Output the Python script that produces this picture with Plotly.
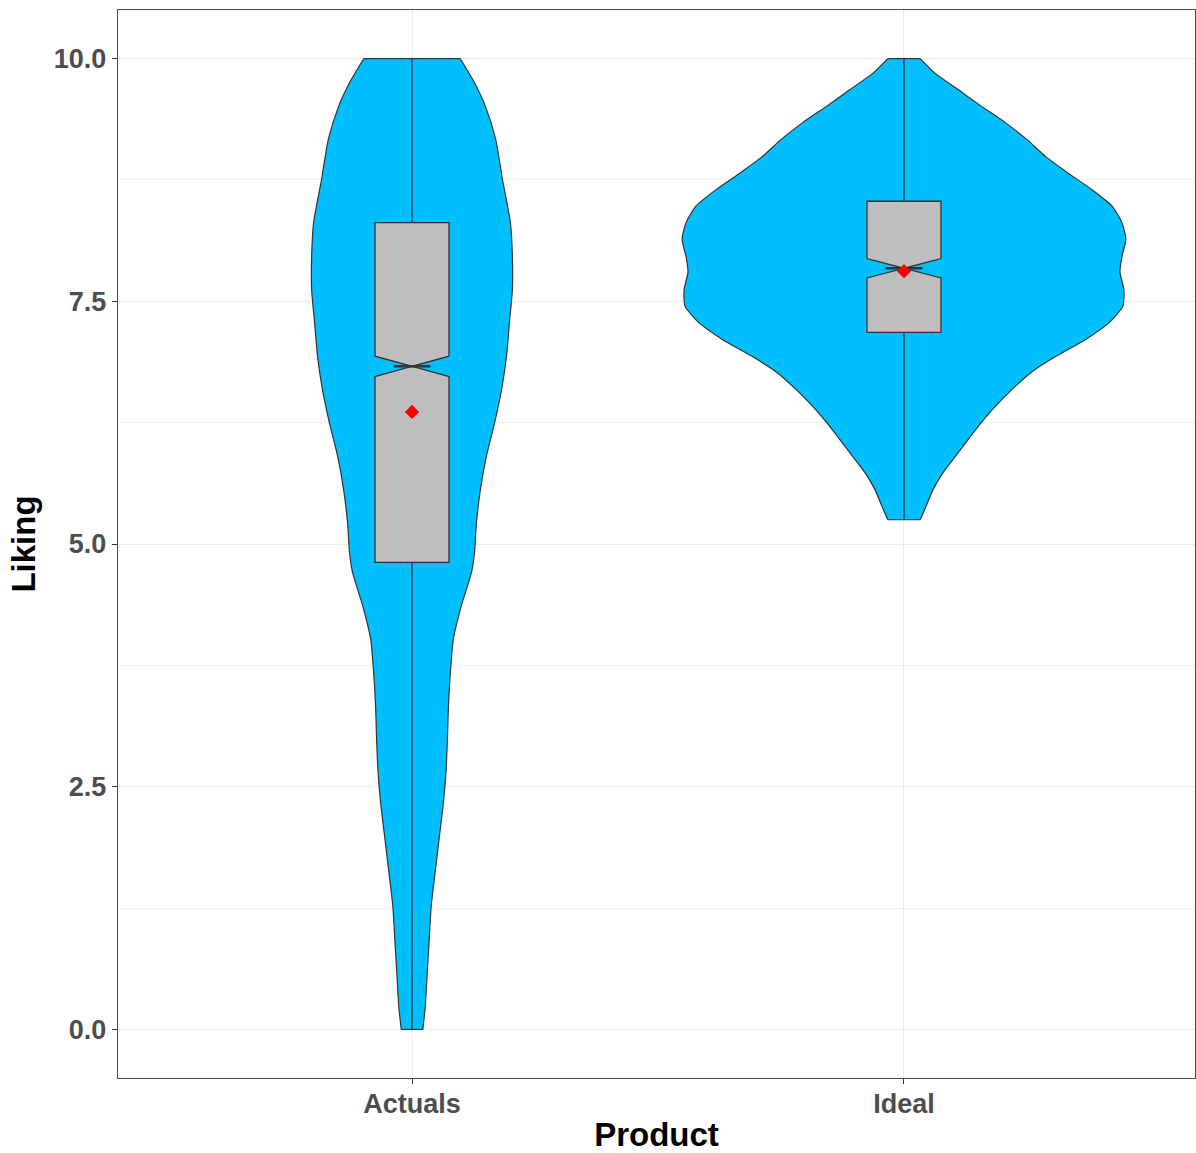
import plotly.graph_objects as go

# Products on the x axis (numeric positions 1, 2 with category labels)
products = ["Actuals", "Ideal"]
positions = [1, 2]

# Violin outlines: liking level and half-width of the density shape
actuals_levels = [0.0, 0.24, 0.59, 0.93, 1.27, 1.62, 1.96, 2.30, 2.65, 2.99, 3.33,
                  3.68, 4.02, 4.36, 4.71, 4.91, 5.22, 5.56, 5.90, 6.25, 6.59, 6.93,
                  7.28, 7.62, 7.96, 8.31, 8.75, 9.17, 9.51, 9.75, 10.0]
actuals_halfwidth = [0.022, 0.027, 0.031, 0.035, 0.039, 0.047, 0.055, 0.063, 0.069,
                     0.072, 0.074, 0.078, 0.084, 0.100, 0.121, 0.127, 0.131, 0.139,
                     0.151, 0.168, 0.182, 0.192, 0.198, 0.204, 0.204, 0.200, 0.184,
                     0.170, 0.149, 0.127, 0.098]

ideal_levels = [5.25, 5.39, 5.56, 5.74, 5.90, 6.08, 6.25, 6.42, 6.59, 6.77, 6.93,
                7.11, 7.28, 7.45, 7.62, 7.80, 7.96, 8.14, 8.31, 8.48, 8.65, 8.83,
                8.99, 9.17, 9.34, 9.51, 9.68, 9.85, 10.0]
ideal_halfwidth = [0.033, 0.045, 0.059, 0.080, 0.104, 0.131, 0.157, 0.186, 0.219,
                   0.259, 0.308, 0.370, 0.417, 0.445, 0.447, 0.439, 0.443, 0.451,
                   0.443, 0.423, 0.382, 0.331, 0.288, 0.249, 0.206, 0.157, 0.110,
                   0.063, 0.033]

# Box-plot summary statistics per product
q1 = [4.81, 7.18]
median = [6.83, 7.84]
q3 = [8.31, 8.53]
lower_fence = [0.0, 5.25]
upper_fence = [10.0, 10.0]
notch_span = [0.105, 0.10]
means = [6.36, 7.81]

# Axis ticks
y_ticks = [0.0, 2.5, 5.0, 7.5, 10.0]
y_ticklabels = ["0.0", "2.5", "5.0", "7.5", "10.0"]

VIOLIN_FILL = "#00BFFF"
OUTLINE = "#333333"
BOX_WIDTH = 0.1504
NOTCH_WIDTH = 0.5
X_RANGE = [0.4024, 2.5915]

fig = go.Figure()

# Violins: smooth left and right edges, filled between them, flat ends
violins = [(actuals_levels, actuals_halfwidth), (ideal_levels, ideal_halfwidth)]
edge = dict(color=OUTLINE, width=1.2, shape="spline", smoothing=0.6)
for pos, (levels, half) in zip(positions, violins):
    fig.add_trace(go.Scatter(
        x=[pos - w for w in half], y=levels, mode="lines", line=edge,
        hoverinfo="skip", showlegend=False,
    ))
    fig.add_trace(go.Scatter(
        x=[pos + w for w in half], y=levels, mode="lines", line=edge,
        fill="tonextx", fillcolor=VIOLIN_FILL,
        hoverinfo="skip", showlegend=False,
    ))
    for i in (0, -1):
        fig.add_trace(go.Scatter(
            x=[pos - half[i], pos + half[i]], y=[levels[i], levels[i]],
            mode="lines", line=dict(color=OUTLINE, width=1.2),
            hoverinfo="skip", showlegend=False,
        ))

# Boxes, medians and means on an overlaying x axis so they sit above the violins
fig.add_trace(go.Box(
    x=positions, q1=q1, median=median, q3=q3,
    lowerfence=lower_fence, upperfence=upper_fence, notchspan=notch_span,
    notched=True, notchwidth=NOTCH_WIDTH, width=BOX_WIDTH, whiskerwidth=0,
    boxpoints=False, fillcolor="#BEBEBE",
    line=dict(color=OUTLINE, width=1.3), showlegend=False,
    xaxis="x2", yaxis="y",
))

for pos, m in zip(positions, median):
    inner = BOX_WIDTH / 2 * (1 - NOTCH_WIDTH)
    fig.add_trace(go.Scatter(
        x=[pos - inner, pos + inner], y=[m, m], mode="lines",
        line=dict(color=OUTLINE, width=2.6), hoverinfo="skip", showlegend=False,
        xaxis="x2", yaxis="y",
    ))

fig.add_trace(go.Scatter(
    x=positions, y=means, mode="markers",
    marker=dict(symbol="diamond", size=11, color="#FF0000"),
    showlegend=False, xaxis="x2", yaxis="y",
))

FONT = "Arial, Liberation Sans, sans-serif"
fig.update_layout(
    width=1196, height=1153,
    margin=dict(l=118, r=1, t=10, b=75),
    plot_bgcolor="white", paper_bgcolor="white",
    font=dict(family=FONT),
    xaxis=dict(
        range=X_RANGE, tickvals=positions, ticktext=products, automargin=False,
        showgrid=True, gridcolor="#EBEBEB", gridwidth=1.2, zeroline=False,
        showline=True, mirror=True, linecolor="#4D4D4D", linewidth=1.4,
        ticks="outside", ticklen=5, tickcolor="#333333", tickwidth=1.2,
        ticklabelstandoff=-4,
        tickfont=dict(size=27, color="#4D4D4D", family=FONT, weight="bold"),
        title=dict(text="Product", standoff=19,
                   font=dict(size=33, color="black", family=FONT, weight="bold")),
    ),
    xaxis2=dict(
        overlaying="x", range=X_RANGE, visible=False, showgrid=False,
        zeroline=False,
    ),
    yaxis=dict(
        range=[-0.5, 10.5], tickvals=y_ticks, ticktext=y_ticklabels,
        automargin=False,
        showgrid=True, gridcolor="#EBEBEB", gridwidth=1.2, zeroline=False,
        minor=dict(dtick=1.25, tick0=0, showgrid=True, gridcolor="#EFEFEF",
                   gridwidth=0.8, ticks=""),
        showline=True, mirror=True, linecolor="#4D4D4D", linewidth=1.4,
        ticks="outside", ticklen=5, tickcolor="#333333", tickwidth=1.2,
        tickfont=dict(size=27, color="#4D4D4D", family=FONT, weight="bold"),
        title=dict(text="Liking", standoff=8,
                   font=dict(size=33, color="black", family=FONT, weight="bold")),
    ),
)

fig.write_html("out.html")
